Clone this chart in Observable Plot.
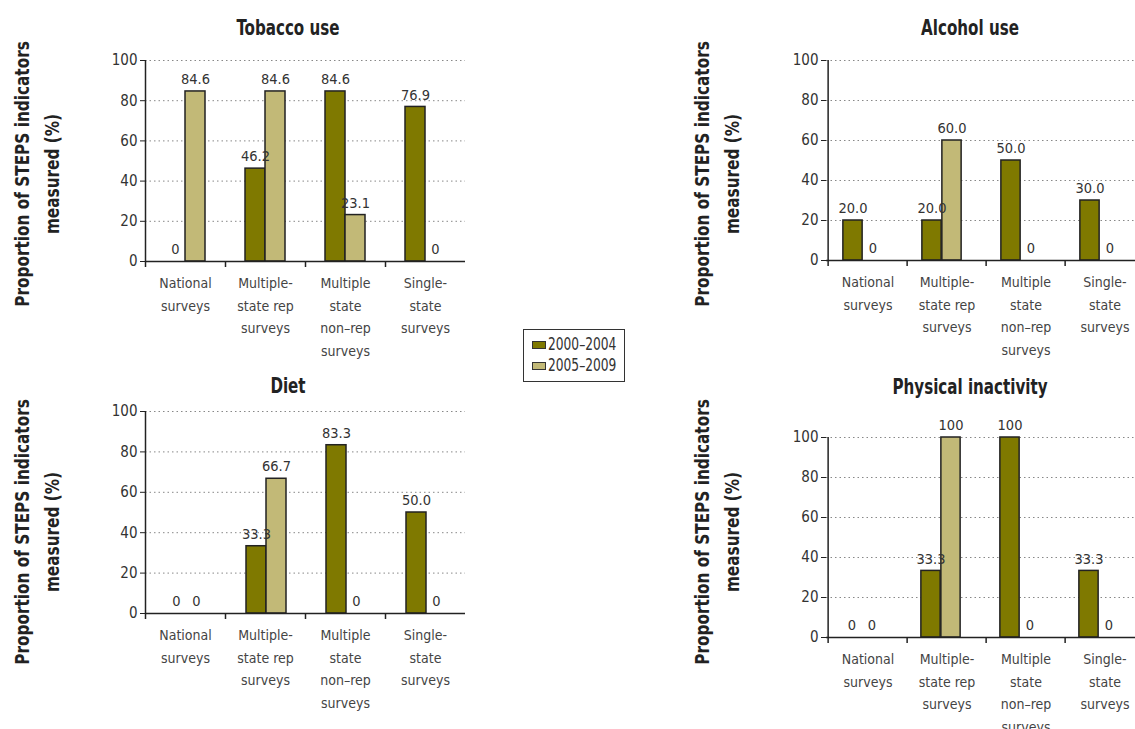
<!DOCTYPE html>
<html>
<head>
<meta charset="utf-8">
<script src="https://cdn.jsdelivr.net/npm/d3@7"></script>
<script src="https://cdn.jsdelivr.net/npm/@observablehq/plot@0.6"></script>
<style>
  html, body { margin: 0; padding: 0; background: #fff; overflow: hidden; }
  #page { position: relative; width: 1135px; height: 729px; overflow: hidden;
          font-family: "DejaVu Sans Condensed", "Liberation Sans Narrow", sans-serif; color: #333; }
  .panel { position: absolute; overflow: visible; }
  .panel svg { max-width: none !important; }
  .title { position: absolute; font-weight: bold; font-size: 21px; color: #222; text-align: center; width: 300px; line-height: 24px;
           transform: scaleX(0.8); }
  .ylab { position: absolute; width: 340px; height: 60px; line-height: 30px; font-weight: bold; font-size: 20px;
          color: #222; text-align: center; transform: rotate(-90deg) scaleX(0.85); white-space: nowrap; }
  #legend { position: absolute; left: 523px; top: 329px; width: 102px; height: 53px; border: 1.5px solid #333; box-sizing: border-box;
            font-size: 17px; color: #333; }
  #legend .item { position: absolute; left: 8px; height: 20px; line-height: 20px; white-space: nowrap; }
  #legend .sw { display: inline-block; width: 14px; height: 8px; border: 1px solid #333; margin-right: 2px; vertical-align: 1px; box-sizing: border-box;}
  #legend .lt { display: inline-block; transform: scaleX(0.8); transform-origin: left center; }
</style>
</head>
<body>
<div id="page"></div>
<script>
// ---------- data ----------
const categories = ["National surveys", "Multiple-state rep surveys", "Multiple state non-rep surveys", "Single-state surveys"];
const categoryTickLabels = ["National\nsurveys", "Multiple-\nstate rep\nsurveys", "Multiple\nstate\nnon–rep\nsurveys", "Single-\nstate\nsurveys"];
const seriesNames = ["2000–2004", "2005–2009"];
const panelTitles = ["Tobacco use", "Alcohol use", "Diet", "Physical inactivity"];
const yTicks = [0, 20, 40, 60, 80, 100];
const yLabelLines = ["Proportion of STEPS indicators", "measured (%)"];

const tobacco2000 = [0, 46.2, 84.6, 76.9];
const tobacco2005 = [84.6, 84.6, 23.1, 0];
const alcohol2000 = [20.0, 20.0, 50.0, 30.0];
const alcohol2005 = [0, 60.0, 0, 0];
const diet2000 = [0, 33.3, 83.3, 50.0];
const diet2005 = [0, 66.7, 0, 0];
const inactivity2000 = [0, 33.3, 100, 33.3];
const inactivity2005 = [0, 100, 0, 0];

const colors = ["#7f7900", "#c2b977"];

// ---------- layout ----------
const layouts = [
  {left: 0,   top: 50,  width: 470, height: 325, mt: 10, mb: 114, ml: 145, shift: 0,  titleX: 288, titleY: 28, ylabY: 174, s1: tobacco2000, s2: tobacco2005},
  {left: 680, top: 50,  width: 470, height: 325, mt: 10, mb: 115, ml: 146, shift: -5, titleX: 970, titleY: 28, ylabY: 174, s1: alcohol2000, s2: alcohol2005},
  {left: 0,   top: 400, width: 470, height: 329, mt: 11, mb: 116, ml: 145, shift: 1,  titleX: 288, titleY: 386, ylabY: 532, s1: diet2000, s2: diet2005},
  {left: 680, top: 420, width: 470, height: 309, mt: 17, mb: 92,  ml: 146, shift: -6, titleX: 970, titleY: 387, ylabY: 532, s1: inactivity2000, s2: inactivity2005}
];

const fmt = v => (v === 0 ? "0" : v === 100 ? "100" : v.toFixed(1));
const page = document.getElementById("page");
const FONT = '"DejaVu Sans Condensed", "Liberation Sans Narrow", sans-serif';

layouts.forEach((L, p) => {
  const mr = 5;
  const step = (L.width - L.ml - mr) / categories.length;
  const barW = 20;
  const rows = [];
  categories.forEach((c, i) => {
    rows.push({cat: c, series: seriesNames[0], value: L.s1[i], k: 0});
    rows.push({cat: c, series: seriesNames[1], value: L.s2[i], k: 1});
  });
  const s0 = rows.filter(d => d.k === 0);
  const s1 = rows.filter(d => d.k === 1);
  const tickLabel = c => categoryTickLabels[categories.indexOf(c)];

  const chart = Plot.plot({
    width: L.width,
    height: L.height,
    marginLeft: L.ml,
    marginRight: mr,
    marginTop: L.mt,
    marginBottom: L.mb,
    style: {fontFamily: FONT, background: "transparent", overflow: "visible", maxWidth: "none"},
    x: {domain: categories, padding: 0, axis: null},
    y: {domain: [0, 100], axis: null},
    marks: [
      Plot.gridY(yTicks.filter(t => t > 0), {stroke: "#888", strokeOpacity: 1, strokeDasharray: "1.5,3", strokeWidth: 1}),
      Plot.barY(s0.filter(d => d.value > 0), {x: "cat", y: "value", fill: colors[0], stroke: "#222", strokeWidth: 1.5,
        insetLeft: step / 2 - barW, insetRight: step / 2, dx: L.shift}),
      Plot.barY(s1.filter(d => d.value > 0), {x: "cat", y: "value", fill: colors[1], stroke: "#222", strokeWidth: 1.5,
        insetLeft: step / 2, insetRight: step / 2 - barW, dx: L.shift}),
      Plot.text(s0, {x: "cat", y: "value", text: d => fmt(d.value), dx: -barW / 2 + L.shift, dy: -12, fontSize: 14.5, fill: "#333"}),
      Plot.text(s1, {x: "cat", y: "value", text: d => fmt(d.value), dx: barW / 2 + L.shift, dy: -12, fontSize: 14.5, fill: "#333"}),
      Plot.ruleY([0], {stroke: "#222", strokeWidth: 1.5}),
      Plot.ruleX([categories[0]], {x: d => d, dx: -step / 2, y1: 0, y2: 100, stroke: "#222", strokeWidth: 1.5}),
      Plot.axisY({ticks: yTicks, tickSize: 5, tickPadding: 3, fontSize: 15, color: "#333", stroke: "#222", label: null}),
      Plot.axisX({tickSize: 6, tickFormat: () => "", dx: -step / 2, stroke: "#222", strokeWidth: 1.5, label: null}),
      Plot.axisX({tickSize: 0, tickPadding: 11, tickFormat: tickLabel, fontSize: 14, lineHeight: 1.6, fill: "#444", label: null})
    ]
  });
  const wrap = document.createElement("div");
  wrap.className = "panel";
  wrap.style.left = L.left + "px";
  wrap.style.top = L.top + "px";
  wrap.style.width = L.width + "px";
  wrap.style.height = L.height + "px";
  wrap.appendChild(chart);
  page.appendChild(wrap);

  const t = document.createElement("div");
  t.className = "title";
  t.textContent = panelTitles[p];
  t.style.left = (L.titleX - 150) + "px";
  t.style.top = (L.titleY - 12) + "px";
  page.appendChild(t);

  const yl = document.createElement("div");
  yl.className = "ylab";
  yl.innerHTML = yLabelLines.map(s => `<div>${s}</div>`).join("");
  const cx = L.left + 37;
  yl.style.left = (cx - 170) + "px";
  yl.style.top = (L.ylabY - 30) + "px";
  page.appendChild(yl);
});

// legend
const legend = document.createElement("div");
legend.id = "legend";
seriesNames.forEach((s, i) => {
  const it = document.createElement("div");
  it.className = "item";
  it.style.top = (4 + i * 21) + "px";
  it.innerHTML = `<span class="sw" style="background:${colors[i]}"></span><span class="lt">${s}</span>`;
  legend.appendChild(it);
});
page.appendChild(legend);
</script>
</body>
</html>
